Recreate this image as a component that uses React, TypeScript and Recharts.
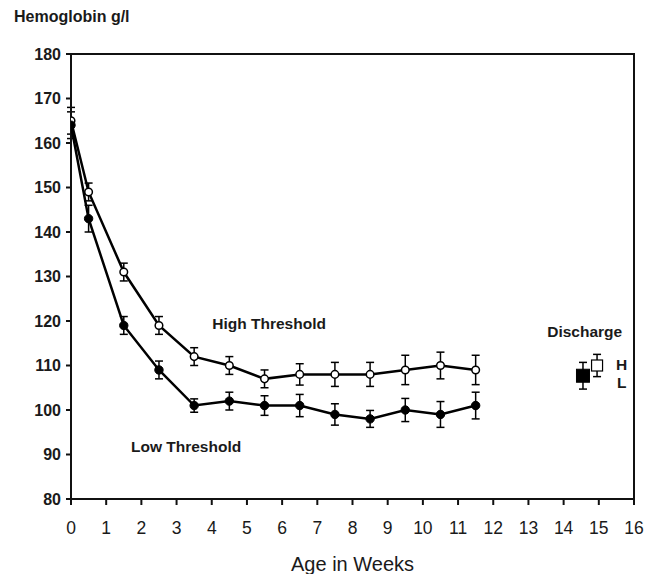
import React from "react";
import {
  ComposedChart,
  Scatter,
  XAxis,
  YAxis,
  ErrorBar,
  ReferenceDot,
  ReferenceArea,
} from "recharts";

// Age in weeks at each visit
const weeks = [0, 0.5, 1.5, 2.5, 3.5, 4.5, 5.5, 6.5, 7.5, 8.5, 9.5, 10.5, 11.5];

// Hemoglobin g/l, high transfusion threshold group (open circles)
const highValues = [165, 149, 131, 119, 112, 110, 107, 108, 108, 108, 109, 110, 109];
const highErrors = [3, 2, 2, 2, 2, 2, 2, 2.4, 2.7, 2.7, 3.3, 3, 3.3];

// Hemoglobin g/l, low transfusion threshold group (filled circles)
const lowValues = [164, 143, 119, 109, 101, 102, 101, 101, 99, 98, 100, 99, 101];
const lowErrors = [3, 3, 2, 2, 1.5, 2, 2.2, 2.5, 2.4, 1.9, 2.6, 2.9, 3];

// values at discharge
const dischargeLow = { x: 14.55, y: 107.7, err: 3 };
const dischargeHigh = { x: 14.95, y: 110, err: 2.5 };

const xTicks = [0, 1, 2, 3, 4, 5, 6, 7, 8, 9, 10, 11, 12, 13, 14, 15, 16];
const yTicks = [80, 90, 100, 110, 120, 130, 140, 150, 160, 170, 180];

const highData = weeks.map((x, i) => ({ x, y: highValues[i], err: highErrors[i] }));
const lowData = weeks.map((x, i) => ({ x, y: lowValues[i], err: lowErrors[i] }));

const FONT = "'Liberation Sans', Arial, sans-serif";

const OpenDot = (props: any) => (
  <circle cx={props.cx} cy={props.cy} r={3.8} fill="#fff" stroke="#000" strokeWidth={1.5} />
);
const FilledDot = (props: any) => (
  <circle cx={props.cx} cy={props.cy} r={4.2} fill="#000" stroke="#000" strokeWidth={1} />
);
const FilledSquare = (props: any) => (
  <rect x={props.cx - 6.5} y={props.cy - 6.5} width={13} height={13} fill="#000" stroke="#000" />
);
const OpenSquare = (props: any) => (
  <rect x={props.cx - 5.5} y={props.cy - 5.5} width={11} height={11} fill="#fff" stroke="#000" strokeWidth={1.2} />
);

const textLabel = (value: string, size = 15.5) => ({
  value,
  position: "center" as const,
  fill: "#1a1a1a",
  fontSize: size,
  fontWeight: "bold",
  fontFamily: FONT,
});

export default function App() {
  return (
    <div style={{ position: "fixed", left: 0, top: 0, width: 646, height: 574, background: "#fff", overflow: "hidden" }}>
      <div
        style={{
          position: "absolute",
          left: 14,
          top: 8,
          fontFamily: FONT,
          fontWeight: "bold",
          fontSize: 16,
          color: "#1a1a1a",
        }}
      >
        Hemoglobin g/l
      </div>
      <ComposedChart width={646} height={574} margin={{ top: 54, right: 12, left: 0, bottom: 0 }}>
        <XAxis
          type="number"
          dataKey="x"
          domain={[0, 16]}
          ticks={xTicks}
          interval={0}
          stroke="#111"
          strokeWidth={2}
          tickSize={6}
          tickMargin={17}
          height={75}
          tick={{ fill: "#1a1a1a", fontSize: 17.5, fontFamily: FONT }}
          label={{ value: "Age in Weeks", position: "insideBottom", offset: 3, fill: "#1a1a1a", fontSize: 20, fontFamily: FONT }}
          allowDataOverflow
        />
        <YAxis
          type="number"
          dataKey="y"
          domain={[80, 180]}
          ticks={yTicks}
          interval={0}
          stroke="#111"
          strokeWidth={2}
          tickSize={5}
          tickMargin={5}
          width={71}
          tick={{ fill: "#1a1a1a", fontSize: 16, fontWeight: "bold", fontFamily: FONT }}
          allowDataOverflow
        />
        {/* frame around the plot */}
        <ReferenceArea x1={0} x2={16} y1={80} y2={180} fill="none" stroke="#111" strokeWidth={2} />

        <Scatter
          data={highData}
          line={{ stroke: "#000", strokeWidth: 2.5 }}
          lineType="joint"
          shape={OpenDot}
          isAnimationActive={false}
        >
          <ErrorBar dataKey="err" direction="y" width={4} stroke="#000" strokeWidth={1.5} />
        </Scatter>
        <Scatter
          data={lowData}
          line={{ stroke: "#000", strokeWidth: 2.5 }}
          lineType="joint"
          shape={FilledDot}
          isAnimationActive={false}
        >
          <ErrorBar dataKey="err" direction="y" width={4} stroke="#000" strokeWidth={1.5} />
        </Scatter>
        <Scatter data={[dischargeHigh]} shape={OpenSquare} isAnimationActive={false}>
          <ErrorBar dataKey="err" direction="y" width={4} stroke="#000" strokeWidth={1.5} />
        </Scatter>
        <Scatter data={[dischargeLow]} shape={FilledSquare} isAnimationActive={false}>
          <ErrorBar dataKey="err" direction="y" width={4} stroke="#000" strokeWidth={1.5} />
        </Scatter>

        <ReferenceDot x={5.63} y={119.4} r={0} fill="none" stroke="none" label={textLabel("High Threshold")} />
        <ReferenceDot x={3.27} y={91.9} r={0} fill="none" stroke="none" label={textLabel("Low Threshold")} />
        <ReferenceDot x={14.6} y={117.6} r={0} fill="none" stroke="none" label={textLabel("Discharge")} />
        <ReferenceDot x={15.65} y={110.2} r={0} fill="none" stroke="none" label={textLabel("H")} />
        <ReferenceDot x={15.65} y={106.1} r={0} fill="none" stroke="none" label={textLabel("L")} />
      </ComposedChart>
    </div>
  );
}
